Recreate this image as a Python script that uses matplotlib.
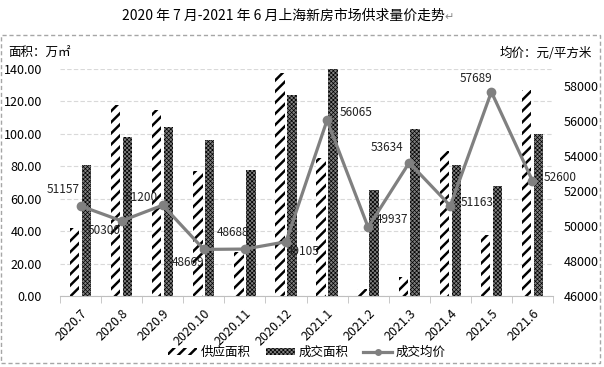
import matplotlib
matplotlib.use("Agg")
import matplotlib.pyplot as plt
from matplotlib.patches import Rectangle
from matplotlib.lines import Line2D
import numpy as np

plt.rcParams['font.family'] = ['Noto Sans CJK SC', 'DejaVu Sans']

months = ["2020.7", "2020.8", "2020.9", "2020.10", "2020.11", "2020.12",
          "2021.1", "2021.2", "2021.3", "2021.4", "2021.5", "2021.6"]
supply = [42, 118, 115, 77, 27, 137.5, 85, 4.3, 12, 89.4, 37.8, 127]
deal = [81, 98, 104, 96, 78, 124, 140, 65.6, 102.8, 81, 68, 99.7]
price = [51157, 50300, 51200, 48669, 48688, 49105, 56065, 49937, 53634, 51163, 57689, 52600]
# label offsets in pixels (dx, dy up)
label_off = [(-17, 16), (-17, -10), (-21, 8), (-16, -13), (-12, 17), (17, -10),
             (29, 8), (24, 8), (-22, 15), (27, 3), (-15, 13), (28, 3)]

W, H = 604, 367
fig = plt.figure(figsize=(W / 100, H / 100), dpi=100)

def px(x0, y0, x1, y1):
    return [x0 / W, 1 - y1 / H, (x1 - x0) / W, (y1 - y0) / H]

ax = fig.add_axes(px(60, 69, 553, 296))
x = np.arange(len(months))

# hatched supply bars, stripes thick
plt.rcParams['hatch.linewidth'] = 1.8
ax.bar(x - 0.145, supply, width=0.23, facecolor='white', edgecolor='black',
       hatch='///', linewidth=0, zorder=2)
# fine checker for deal bars
plt.rcParams['hatch.linewidth'] = 0.5
ax.bar(x + 0.145, deal, width=0.23, facecolor='#808080', edgecolor='black',
       hatch='xxxxxxxx', linewidth=0, zorder=2)

ax.set_xlim(-0.5, len(months) - 0.5)
ax.set_ylim(0, 140)
ax.set_yticks(np.arange(0, 141, 20))
ax.set_yticklabels([f"{v:.2f}" for v in np.arange(0, 141, 20)])
ax.yaxis.grid(True, color='#d9d9d9', linestyle=(0, (4, 2)), linewidth=0.8, zorder=0)
ax.set_axisbelow(True)
for s in ['top', 'right', 'left']:
    ax.spines[s].set_visible(False)
ax.spines['bottom'].set_color('#bfbfbf')
ax.tick_params(axis='y', length=0, pad=13, labelsize=9)
ax.set_xticks(x)
ax.set_xticklabels(months, rotation=45, ha='right', va='top',
                   rotation_mode='anchor', fontsize=9)
ax.tick_params(axis='x', length=0, pad=8)
ax.set_xticks(np.arange(-0.5, len(months)), minor=True)
ax.tick_params(axis='x', which='minor', length=5, color='#bfbfbf')

ax2 = ax.twinx()
ax2.set_ylim(46000, 59000)
ax2.set_yticks(np.arange(46000, 58001, 2000))
for s in ax2.spines.values():
    s.set_visible(False)
ax2.tick_params(axis='y', length=0, pad=8, labelsize=9)
ax2.plot(x, price, color='#808080', linewidth=2.3, marker='o', markersize=6, zorder=3)
for i, (p, (dx, dy)) in enumerate(zip(price, label_off)):
    ax2.annotate(str(p), (x[i], p), xytext=(dx * 0.72, dy * 0.72), textcoords='offset points',
                 ha='center', va='center', fontsize=8.5, color='#222222')

fig.text(8 / W, 1 - 53 / H, "面积：万㎡", fontsize=9, va='center', ha='left')
fig.text(592 / W, 1 - 53 / H, "均价：元/平方米", fontsize=9, va='center', ha='right')

title = fig.text(122 / W, 1 - 16 / H, "2020 年 7 月-2021 年 6 月上海新房市场供求量价走势",
                 fontsize=10, va='center', ha='left')
ax.annotate("↵", xy=(1, 0.45), xycoords=title, ha='left', va='center',
            fontsize=8, color='#888888', annotation_clip=False)

fig.patches.append(Rectangle((1 / W, 1 - 363 / H), 599 / W, 328 / H, transform=fig.transFigure,
                             fill=False, edgecolor='#a6a6a6', linestyle=(0, (3, 2)), linewidth=1))

h1 = Rectangle((0, 0), 1, 1, facecolor='white', edgecolor='black', hatch='///', linewidth=0)
h2 = Rectangle((0, 0), 1, 1, facecolor='#808080', edgecolor='black', hatch='xxxxxxxx', linewidth=0)
h3 = Line2D([], [], color='#808080', linewidth=2.3, marker='o', markersize=4)
leg = fig.legend([h1, h2, h3], ["供应面积", "成交面积", "成交均价"], loc='center', ncol=3,
                 bbox_to_anchor=(307 / W, 1 - 352 / H), frameon=False, fontsize=9,
                 handlelength=2.3, handleheight=0.5, columnspacing=1.2, handletextpad=0.3,
                 borderpad=0)
leg.legend_handles[0]._hatch_linewidth = 1.8
leg.legend_handles[1]._hatch_linewidth = 0.5

fig.savefig("out.png", dpi=100)
